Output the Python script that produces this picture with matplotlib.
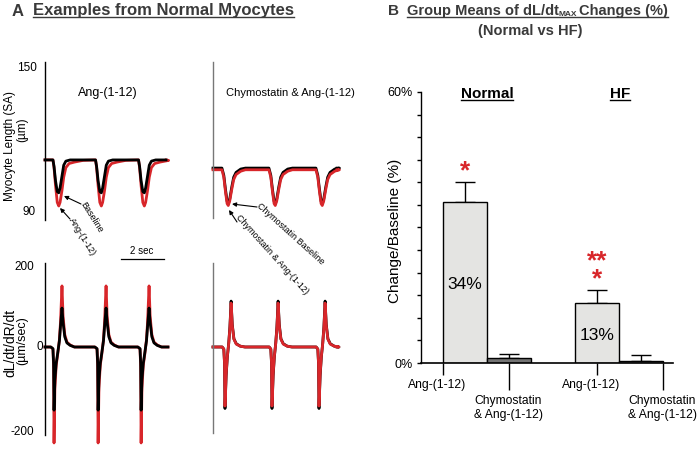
import matplotlib
matplotlib.use("Agg")
import matplotlib.pyplot as plt
from matplotlib.lines import Line2D

# ---- data ----
# panel A, top: myocyte length (um), one beat shape (s after onset)
len_onsets_norm = [0.37, 2.35, 4.35]
len_t_black = [0.0, 0.05, 0.12, 0.2, 0.27, 0.33, 0.42, 0.5, 0.6, 0.8]
len_black = [111.7, 109, 103, 98.5, 98, 100, 105, 109.5, 111.2, 111.7]
len_t_red = [0.0, 0.05, 0.12, 0.2, 0.27, 0.33, 0.42, 0.5, 0.6, 0.75, 1.0, 1.4]
len_red = [111.7, 108.5, 101, 94, 92.5, 94, 99, 104.5, 108.5, 110.2, 110.8, 111.5]

len_onsets_chy = [0.38, 2.38, 4.38]
len_t_chy = [0.0, 0.08, 0.15, 0.22, 0.27, 0.33, 0.42, 0.5, 0.6, 0.8, 1.0]
len_chy_black = [108.3, 105.3, 99.5, 94.5, 93.4, 95.3, 100.5, 104.5, 106.5, 107.9, 108.3]
len_chy_red = [107.6, 104.5, 98.5, 93.5, 92.7, 94.5, 99.5, 103.5, 105.6, 107.0, 107.6]

# panel A, bottom: dL/dt (um/sec), shape around the negative peak
vel_peaks_norm = [0.42, 2.47, 4.47]
vel_t = [-0.15, -0.05, -0.02, 0.0, 0.04, 0.1, 0.17, 0.25, 0.3, 0.37, 0.42, 0.5, 0.6, 0.75, 0.95]
vel_black = [0, -4, -40, -154, -80, -40, -15, 15, 50, 95, 60, 25, 10, 4, 0]
vel_red = [0, -5, -50, -234, -100, -45, -18, 18, 60, 149, 75, 30, 12, 5, 0]

vel_peaks_chy = [0.51, 2.51, 4.51]
vel_t_chy = [-0.12, -0.05, -0.02, 0.0, 0.05, 0.1, 0.16, 0.21, 0.26, 0.31, 0.38, 0.48, 0.65, 0.85]
vel_chy_black = [0, -5, -40, -150, -70, -25, 10, 50, 112, 55, 20, 8, 2, 0]
vel_chy_red = [0, -5, -38, -144, -66, -23, 9, 47, 107, 52, 19, 7, 2, 0]

# panel B: group means of dL/dt max changes (%)
bar_names = ["Ang-(1-12)", "Chymostatin\n& Ang-(1-12)", "Ang-(1-12)", "Chymostatin\n& Ang-(1-12)"]
bar_means = [35.6, 1.1, 13.3, 0.45]
bar_err = [4.5, 0.9, 2.9, 1.35]
bar_text = ["34%", "", "13%", ""]
bar_stars = ["*", "", "**\n*", ""]

W, H = 698, 449
SANS = ["Liberation Sans", "DejaVu Sans"]
plt.rcParams["font.family"] = SANS
GREY = "#3a3a3a"
RED = "#d8262a"

fig = plt.figure(figsize=(W / 100, H / 100), dpi=100)


def fx(x):
    return x / W


def fy(y):
    return 1 - y / H


def add_ax(l, t, r, b):
    return fig.add_axes([l / W, 1 - b / H, (r - l) / W, (b - t) / H])


def trace(onsets, sh_t, sh_v, base, t_end):
    t = [0.0]
    v = [base]
    for o in onsets:
        t += [o + s for s in sh_t]
        v += list(sh_v)
    t.append(t_end)
    v.append(base)
    return t, v


def clean(ax, color="k"):
    for s in ["top", "right", "bottom"]:
        ax.spines[s].set_visible(False)
    ax.spines["left"].set_color(color)
    ax.spines["left"].set_linewidth(1.0)
    ax.set_xticks([])
    ax.set_yticks([])
    ax.patch.set_alpha(0)


# ---- panel A traces ----
ax_tl = add_ax(45, 62, 175, 220)
ax_tl.set_xlim(0, 130 / 21.5)
ax_tl.set_ylim(86.67, 152.5)
clean(ax_tl)
t, v = trace(len_onsets_norm, len_t_red, len_red, 111.7, 5.63)
ax_tl.plot(t, v, color=RED, lw=2.0, clip_on=False)
t, v = trace(len_onsets_norm, len_t_black, len_black, 111.7, 5.63)
ax_tl.plot(t, v, color="k", lw=2.0, clip_on=False)

ax_tr = add_ax(213, 62, 345, 218)
ax_tr.set_xlim(0, 132 / 23.5)
ax_tr.set_ylim(86.67 + 2 / 2.4, 152.5)
clean(ax_tr, "#777777")
t, v = trace(len_onsets_chy, len_t_chy, len_chy_black, 108.3, 5.28)
ax_tr.plot(t, v, color="k", lw=2.0, clip_on=False)
t, v = trace(len_onsets_chy, len_t_chy, len_chy_red, 107.6, 5.28)
ax_tr.plot(t, v, color=RED, lw=2.0, clip_on=False)

ax_bl = add_ax(45, 263, 175, 435)
ax_bl.set_xlim(0, 130 / 21.5)
ax_bl.set_ylim(-214.6, 204.9)
clean(ax_bl)
t, v = trace(vel_peaks_norm, vel_t, vel_red, 0, 5.72)
ax_bl.plot(t, v, color=RED, lw=2.0, clip_on=False)
t, v = trace(vel_peaks_norm, vel_t, vel_black, 0, 5.72)
ax_bl.plot(t, v, color="k", lw=2.0, clip_on=False)

ax_br = add_ax(213, 263, 345, 433)
ax_br.set_xlim(0, 132 / 23.5)
ax_br.set_ylim(-209.8, 204.9)
clean(ax_br, "#777777")
t, v = trace(vel_peaks_chy, vel_t_chy, vel_chy_black, 0, 5.28)
ax_br.plot(t, v, color="k", lw=2.0, clip_on=False)
t, v = trace(vel_peaks_chy, vel_t_chy, vel_chy_red, 0, 5.28)
ax_br.plot(t, v, color=RED, lw=2.0, clip_on=False)

# axis numbers on the left traces
fig.text(fx(37), fy(68), "150", fontsize=8.5, ha="right", va="center")
fig.text(fx(36), fy(212), "90", fontsize=8.5, ha="right", va="center")
fig.text(fx(34), fy(267), "200", fontsize=8.5, ha="right", va="center")
fig.text(fx(43), fy(347), "0", fontsize=8.5, ha="right", va="center")
fig.text(fx(34), fy(432), "-200", fontsize=8.5, ha="right", va="center")

fig.text(fx(10), fy(146), "Myocyte Length (SA)", fontsize=8.5, rotation=90, ha="center", va="center")
fig.text(fx(22), fy(130), "(\u00b5m)", fontsize=8.5, rotation=90, ha="center", va="center")
fig.text(fx(10), fy(343), "dL/dt/dR/dt", fontsize=10, rotation=90, ha="center", va="center")
fig.text(fx(22), fy(341), "(\u00b5m/sec)", fontsize=9, rotation=90, ha="center", va="center")

fig.text(fx(108), fy(93), "Ang-(1-12)", fontsize=9, ha="center", va="center")
fig.text(fx(290), fy(93), "Chymostatin & Ang-(1-12)", fontsize=8, ha="center", va="center")

# arrows + labels on the traces
arrows = [((81, 204), (64, 196)), ((70, 219), (60, 208)),
          ((257, 207), (232, 204)), ((237, 222), (229, 210))]
for (x0, y0), (x1, y1) in arrows:
    ax_tl.annotate("", xy=(x1, H - y1), xytext=(x0, H - y0), xycoords="figure pixels",
                   textcoords="figure pixels",
                   arrowprops=dict(arrowstyle="-|>", lw=0.8, color="k", mutation_scale=6,
                                   shrinkA=0, shrinkB=0))
fig.text(fx(82), fy(203), "Baseline", fontsize=6.5, rotation=-58,
         rotation_mode="anchor", ha="left", va="center")
fig.text(fx(71), fy(219), "Ang-(1-12)", fontsize=6.5, rotation=-58,
         rotation_mode="anchor", ha="left", va="center")
fig.text(fx(258), fy(205), "Chymostatin Baseline", fontsize=6.5, rotation=-42,
         rotation_mode="anchor", ha="left", va="center")
fig.text(fx(237), fy(216), "Chymostatin & Ang-(1-12)", fontsize=6.5, rotation=-48,
         rotation_mode="anchor", ha="left", va="center")

# scale bar
fig.add_artist(Line2D([fx(121), fx(164)], [fy(259), fy(259)], color="k", lw=0.9))
fig.text(fx(142), fy(256), "2 sec", fontsize=7, ha="center", va="bottom")

# ---- panel B bars ----
axB = add_ax(421, 92, 673, 363)
xs = [0, 1, 3, 4]
axB.bar(xs, bar_means, width=1.0, color=["#e4e4e2", "#737373", "#e4e4e2", "#9a9a9a"],
        edgecolor="k", linewidth=1.0, zorder=2)
axB.errorbar(xs, bar_means, yerr=[[0] * 4, bar_err], fmt="none", ecolor="k",
             elinewidth=1.0, capsize=7.5, capthick=1.0, zorder=1)
axB.set_xlim(-1.0, 4.73)
axB.set_ylim(0, 60)
axB.spines["top"].set_visible(False)
axB.spines["right"].set_visible(False)
axB.spines["left"].set_linewidth(1.0)
axB.spines["bottom"].set_linewidth(1.2)
axB.set_xticks([])
axB.set_yticks(range(0, 61, 5))
axB.set_yticklabels(["0%"] + [""] * 11 + ["60%"], fontsize=9)
axB.tick_params(axis="y", direction="out", length=3, width=1.0, pad=3)
axB.patch.set_alpha(0)
axB.vlines([-0.5, 3], -2.65, 0, color="k", lw=1.0, clip_on=False)
axB.vlines([1, 4.5], -6.0, 0, color="k", lw=1.0, clip_on=False)

for x, m, txt in zip(xs, bar_means, bar_text):
    if txt:
        axB.text(x, m / 2 - 0.5, txt, fontsize=12.5, ha="center", va="center")

# significance marks, placed just above each error bar
for x, m, e, s in zip(xs, bar_means, bar_err, bar_stars):
    if s:
        axB.annotate(s, xy=(x, m + e), xytext=(0, -1), textcoords="offset points",
                     color=RED, fontsize=19, fontweight="bold", ha="center", va="bottom",
                     linespacing=0.7)

lab_pos = [(437, 385), (508, 408), (591, 385), (662, 408)]
for (x, y), name in zip(lab_pos, bar_names):
    fig.text(fx(x), fy(y), name, fontsize=8.7, ha="center", va="center", linespacing=1.15)

fig.text(fx(395), fy(231), "Change/Baseline (%)", fontsize=11, rotation=90,
         ha="center", va="center")

# ---- titles ----
fig.text(fx(12), fy(11), "A", fontsize=12, fontweight="bold", color=GREY, ha="left", va="center")
tA = fig.text(fx(33), fy(11), "Examples from Normal Myocytes", fontsize=12, fontweight="bold",
              color=GREY, ha="left", va="center")
fig.text(fx(388), fy(11), "B", fontsize=11, fontweight="bold", color=GREY, ha="left", va="center")
tB1 = fig.text(fx(407), fy(11), "Group Means of dL/dt", fontsize=10.5, fontweight="bold",
               color=GREY, ha="left", va="center")
fig.text(fx(530), fy(31), "(Normal vs HF)", fontsize=10.5, fontweight="bold", color=GREY,
         ha="center", va="center")
tN = fig.text(fx(487), fy(94), "Normal", fontsize=11, fontweight="bold", ha="center", va="center")
tH = fig.text(fx(620), fy(94), "HF", fontsize=11, fontweight="bold", ha="center", va="center")

fig.canvas.draw()
r = fig.canvas.get_renderer()
bb = tB1.get_window_extent(r)
tSub = fig.text(bb.x1 / W, fy(15), "MAX", fontsize=6, fontweight="bold", color=GREY,
                ha="left", va="center")
fig.canvas.draw()
bs = tSub.get_window_extent(r)
tB2 = fig.text(bs.x1 / W + 0.002, fy(11), "Changes (%)", fontsize=10.5, fontweight="bold",
               color=GREY, ha="left", va="center")
fig.canvas.draw()


def underline(x0, x1, y, color):
    fig.add_artist(Line2D([x0 / W, x1 / W], [y / H, y / H], color=color, lw=1.0))


for t_, c in [(tA, GREY), (tN, "k"), (tH, "k")]:
    b = t_.get_window_extent(r)
    underline(b.x0, b.x1, b.y0 + 1.5, c)
b2 = tB2.get_window_extent(r)
underline(bb.x0, b2.x1, bb.y0 + 1.5, GREY)

fig.savefig("out.png", dpi=100)
